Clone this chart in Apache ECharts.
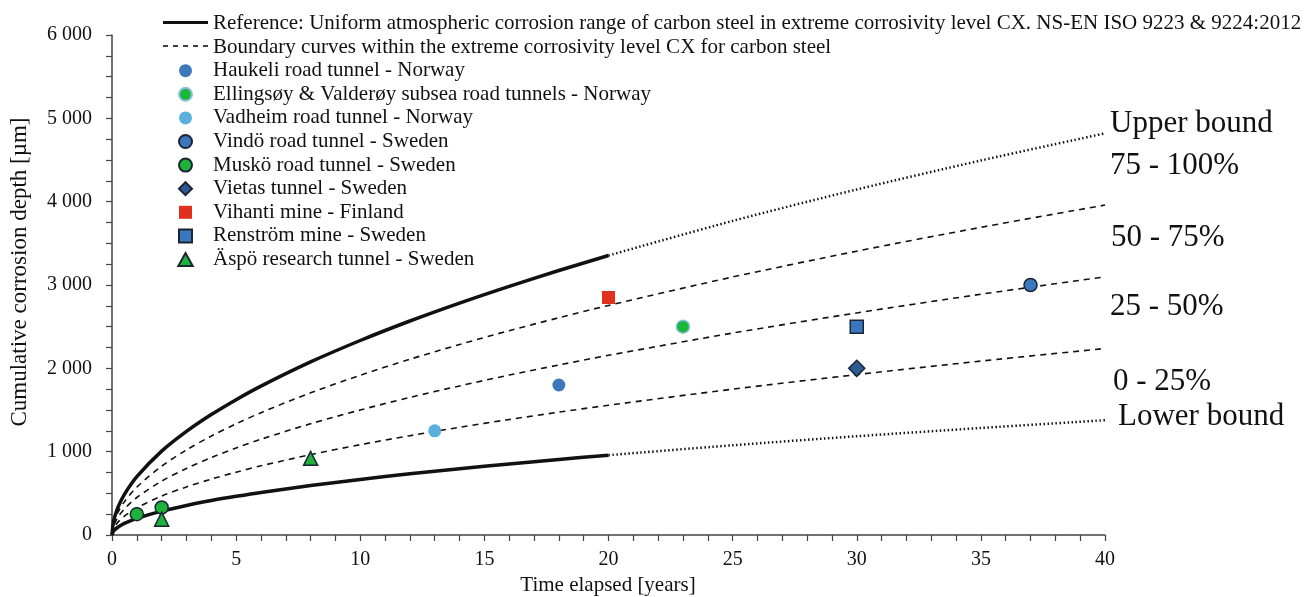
<!DOCTYPE html>
<html><head><meta charset="utf-8">
<script src="https://cdn.jsdelivr.net/npm/echarts@6/dist/echarts.min.js"></script>
<style>html,body{margin:0;padding:0;background:#fff}#c{width:1313px;height:597px}</style>
</head><body><div id="c"></div>
<script>
// ---- data ----
const yearsRef = [0, 0.05, 0.1, 0.25, 0.5, 1, 2, 3, 4, 5, 6, 8, 10, 12, 14, 16, 18, 20];
const yearsExt = [20, 25, 30, 35, 40];
const upperRef = [0, 146, 210, 339, 487, 700, 1006, 1243, 1445, 1624, 1787, 2077, 2334, 2568, 2783, 2984, 3174, 3354];
const lowerRef = [0, 42, 60, 97, 139, 200, 287, 355, 413, 464, 511, 593, 667, 734, 795, 853, 907, 958];
const upperExt = [3354, 3769, 4146, 4494, 4820];
const lowerExt = [958, 1077, 1185, 1284, 1377];
const yearsBnd = [0, 0.05, 0.1, 0.25, 0.5, 1, 2, 3, 4, 5, 6, 8, 10, 12, 14, 16, 18, 20, 25, 30, 35, 40];
const bnd25 = [0, 68, 97, 157, 226, 325, 467, 577, 671, 754, 830, 964, 1084, 1192, 1292, 1386, 1474, 1557, 1750, 1925, 2087, 2238];
const bnd50 = [0, 94, 135, 218, 313, 450, 647, 799, 929, 1044, 1149, 1335, 1500, 1651, 1789, 1919, 2040, 2156, 2423, 2665, 2889, 3098];
const bnd75 = [0, 120, 172, 278, 400, 575, 826, 1021, 1187, 1334, 1468, 1706, 1917, 2109, 2286, 2452, 2607, 2755, 3096, 3406, 3692, 3959];

const siteNames = [
  'Haukeli road tunnel - Norway',
  'Ellingsøy & Valderøy subsea road tunnels - Norway',
  'Vadheim road tunnel - Norway',
  'Vindö road tunnel - Sweden',
  'Muskö road tunnel - Sweden',
  'Vietas tunnel - Sweden',
  'Vihanti mine - Finland',
  'Renström mine - Sweden',
  'Äspö research tunnel - Sweden'
];
const siteYears = [[18], [23], [13], [37], [1, 2], [30], [20], [30], [2, 8]];
const siteDepth = [[1800], [2500], [1250], [3000], [250, 330], [2000], [2850], [2500], [190, 920]];

const refName = 'Reference: Uniform atmospheric corrosion range of carbon steel in extreme corrosivity level CX. NS-EN ISO 9223 & 9224:2012';
const bndName = 'Boundary curves within the extreme corrosivity level CX for carbon steel';
const regionLabels = ['Upper bound', '75 - 100%', '50 - 75%', '25 - 50%', '0 - 25%', 'Lower bound'];
const yTicks = ['0', '1 000', '2 000', '3 000', '4 000', '5 000', '6 000'];
const xName = 'Time elapsed [years]';
const yName = 'Cumulative corrosion depth [µm]';

// ---- styling ----
const FONT = '"Liberation Serif", "Times New Roman", serif';
const ICONS = {
  circle: 'circle',
  rect: 'path://M0,0L10,0L10,10L0,10Z',
  diamond: 'path://M5,0L10,5L5,10L0,5Z',
  triangle: 'path://M5,0L10,9L0,9Z'
};
const siteStyle = [
  {symbol: 'circle', color: '#3d78bb', border: '#3d78bb', bw: 0},
  {symbol: 'circle', color: '#1ab83a', border: '#8fbfe0', bw: 1.5},
  {symbol: 'circle', color: '#5aafdc', border: '#5aafdc', bw: 0},
  {symbol: 'circle', color: '#3a77bf', border: '#1c2533', bw: 1.5},
  {symbol: 'circle', color: '#1db33b', border: '#1c2533', bw: 1.5},
  {symbol: 'diamond', color: '#2e5b94', border: '#1c2533', bw: 1.5},
  {symbol: 'rect', color: '#e0301e', border: '#e0301e', bw: 0},
  {symbol: 'rect', color: '#3a77bf', border: '#1c2533', bw: 1.5},
  {symbol: 'triangle', color: '#1db33b', border: '#1c2533', bw: 1.5}
];
const zip = (xs, ys) => xs.map((x, i) => [x, ys[i]]);

const series = [];
const solid = {color: '#111', width: 3.5};
const dotted = {color: '#111', width: 2.5, type: [1.5, 2.5]};
series.push({name: refName, type: 'line', data: zip(yearsRef, upperRef), smooth: 0.3, symbol: 'none',
  itemStyle: {color: '#111'}, lineStyle: solid, z: 3});
series.push({name: refName, type: 'line', data: zip(yearsRef, lowerRef), smooth: 0.3, symbol: 'none',
  itemStyle: {color: '#111'}, lineStyle: solid, z: 3});
series.push({name: 'upperExt', type: 'line', data: zip(yearsExt, upperExt), smooth: 0.3, symbol: 'none',
  itemStyle: {color: '#111'}, lineStyle: dotted, z: 3});
series.push({name: 'lowerExt', type: 'line', data: zip(yearsExt, lowerExt), smooth: 0.3, symbol: 'none',
  itemStyle: {color: '#111'}, lineStyle: dotted, z: 3});
[bnd25, bnd50, bnd75].forEach(b => series.push({name: bndName, type: 'line', data: zip(yearsBnd, b),
  smooth: 0.3, symbol: 'none', itemStyle: {color: '#111'},
  lineStyle: {color: '#111', width: 1.6, type: [6, 5]}, z: 2}));
siteNames.forEach((n, i) => {
  const s = siteStyle[i];
  series.push({name: n, type: 'scatter', data: zip(siteYears[i], siteDepth[i]), symbol: s.symbol,
    symbolSize: s.symbol === 'diamond' ? 16 : (s.symbol === 'triangle' ? 14 : 13),
    itemStyle: {color: s.color, borderColor: s.border, borderWidth: s.bw, opacity: 1}, z: 5});
});

const legendData = [{name: refName, icon: 'none'}, {name: bndName, icon: 'none'}].concat(
  siteNames.map((n, i) => ({name: n, icon: ICONS[siteStyle[i].symbol]})));

const labelPos = [[1110, 124], [1110, 166], [1111, 238], [1110, 307], [1113, 382], [1118, 417]];

const chart = echarts.init(document.getElementById('c'), null, {renderer: 'canvas'});
chart.setOption({
  animation: false,
  backgroundColor: '#fff',
  textStyle: {fontFamily: FONT},
  grid: {left: 112, right: 208, top: 35, bottom: 62, containLabel: false},
  legend: {
    orient: 'vertical', left: 163, top: 13, itemWidth: 45, itemHeight: 13, itemGap: 2.6,
    symbolKeepAspect: true,
    data: legendData,
    textStyle: {fontFamily: FONT, fontSize: 21, color: '#111', lineHeight: 21},
    padding: 0, selectedMode: false
  },
  xAxis: {
    type: 'value', min: 0, max: 40, interval: 5,
    axisLine: {lineStyle: {color: '#444', width: 1.5}},
    axisTick: {show: true, inside: false, length: 6, lineStyle: {color: '#444', width: 1.2}},
    minorTick: {show: true, splitNumber: 5, length: 6, lineStyle: {color: '#444', width: 1.2}},
    axisLabel: {fontFamily: FONT, fontSize: 20, color: '#111', margin: 15},
    splitLine: {show: false}
  },
  yAxis: {
    type: 'value', min: 0, max: 6000, interval: 1000,
    axisLine: {show: true, lineStyle: {color: '#444', width: 1.5}},
    axisTick: {show: true, inside: false, length: 6, lineStyle: {color: '#444', width: 1.2}},
    minorTick: {show: true, splitNumber: 4, length: 6, lineStyle: {color: '#444', width: 1.2}},
    axisLabel: {fontFamily: FONT, fontSize: 20, color: '#111', margin: 20,
      formatter: v => yTicks[Math.round(v / 1000)]},
    splitLine: {show: false}
  },
  graphic: regionLabels.map((t, i) => ({
    type: 'text', x: labelPos[i][0], y: labelPos[i][1],
    style: {text: t, font: '31px ' + FONT, fill: '#111', verticalAlign: 'middle', align: 'left'}
  })).concat([
    {type: 'text', x: 608, y: 585, style: {text: xName, font: '21px ' + FONT, fill: '#111', align: 'center', verticalAlign: 'middle'}},
    {type: 'text', x: 20, y: 272, rotation: Math.PI / 2, style: {text: yName, font: '23px ' + FONT, fill: '#111', align: 'center', verticalAlign: 'middle'}},
    // legend line icons for the two curve families
    {type: 'line', shape: {x1: 163, y1: 22.5, x2: 208, y2: 22.5}, style: {stroke: '#111', lineWidth: 3}},
    {type: 'line', shape: {x1: 163, y1: 46, x2: 208, y2: 46}, style: {stroke: '#111', lineWidth: 1.6, lineDash: [5, 5]}}
  ]),
  series: series
});
</script></body></html>
